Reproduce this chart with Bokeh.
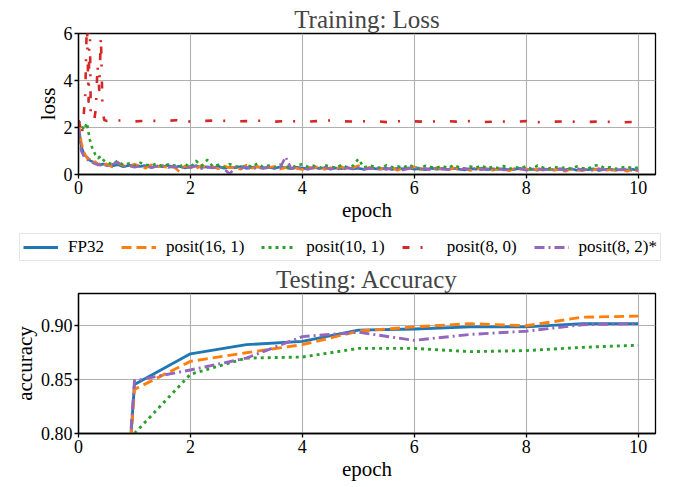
import numpy as np
from bokeh.plotting import figure
from bokeh.models import Range1d, FixedTicker, Legend, LegendItem, NumeralTickFormatter
from bokeh.layouts import column
from bokeh.embed import file_html
from bokeh.resources import INLINE

# ---------------- data ----------------
SERIES = ["FP32", "posit(16, 1)", "posit(10, 1)", "posit(8, 0)", "posit(8, 2)*"]

TRAIN_EPOCH = [0, 0.05, 0.1, 0.15, 0.2, 0.25, 0.3, 0.35, 0.4, 0.45] + [round(0.5 + 0.1 * i, 1) for i in range(96)]

LOSS_FP32 = [2.10, 1.20, 0.85, 0.75, 0.60, 0.55, 0.50, 0.45, 0.42, 0.45,
             0.40, 0.36, 0.42, 0.33, 0.38, 0.41, 0.34, 0.37, 0.30, 0.36,
             0.33, 0.38, 0.31, 0.35, 0.28, 0.34, 0.37, 0.30, 0.33, 0.29,
             0.35, 0.27, 0.32, 0.29, 0.34, 0.26, 0.31, 0.33, 0.28, 0.30,
             0.27, 0.32, 0.29, 0.25, 0.31, 0.28, 0.24, 0.30, 0.26, 0.29,
             0.23, 0.28, 0.25, 0.30, 0.24, 0.27, 0.22, 0.29, 0.25, 0.23,
             0.27, 0.21, 0.26, 0.24, 0.28, 0.22, 0.25, 0.20, 0.27, 0.23,
             0.25, 0.21, 0.26, 0.23, 0.19, 0.25, 0.22, 0.27, 0.20, 0.24,
             0.21, 0.25, 0.19, 0.23, 0.26, 0.20, 0.22, 0.18, 0.24, 0.21,
             0.19, 0.23, 0.20, 0.25, 0.18, 0.22, 0.20, 0.24, 0.17, 0.21,
             0.23, 0.18, 0.21, 0.19, 0.22, 0.17]
LOSS_P16_1 = [2.20, 1.35, 0.95, 0.70, 0.65, 0.48, 0.55, 0.40, 0.50, 0.38,
              0.45, 0.32, 0.50, 0.38, 0.29, 0.44, 0.35, 0.27, 0.41, 0.33,
              0.38, 0.26, 0.34, 0.12, 0.36, 0.30, 0.25, 0.39, 0.28, 0.33,
              0.24, 0.36, 0.29, 0.31, 0.22, 0.40, 0.27, 0.33, 0.25, 0.30,
              0.34, 0.23, 0.29, 0.36, 0.26, 0.21, 0.32, 0.27, 0.35, 0.22,
              0.29, 0.24, 0.33, 0.20, 0.27, 0.38, 0.23, 0.30, 0.19, 0.26,
              0.22, 0.31, 0.18, 0.27, 0.24, 0.33, 0.20, 0.26, 0.17, 0.29,
              0.23, 0.19, 0.28, 0.21, 0.26, 0.17, 0.25, 0.22, 0.30, 0.18,
              0.24, 0.20, 0.16, 0.27, 0.21, 0.25, 0.15, 0.23, 0.19, 0.26,
              0.18, 0.22, 0.14, 0.24, 0.20, 0.16, 0.23, 0.19, 0.25, 0.15,
              0.21, 0.17, 0.23, 0.14, 0.20, 0.16]
LOSS_P10_1 = [2.30, 2.10, 1.90, 2.20, 1.50, 1.10, 0.85, 0.70, 0.78, 0.60,
              0.52, 0.44, 0.58, 0.40, 0.47, 0.36, 0.50, 0.42, 0.38, 0.46,
              0.35, 0.43, 0.39, 0.33, 0.45, 0.30, 0.58, 0.37, 0.62, 0.34,
              0.41, 0.30, 0.44, 0.36, 0.28, 0.40, 0.33, 0.47, 0.31, 0.38,
              0.29, 0.42, 0.35, 0.27, 0.39, 0.44, 0.32, 0.37, 0.26, 0.40,
              0.34, 0.28, 0.41, 0.31, 0.36, 0.66, 0.29, 0.38, 0.33, 0.27,
              0.39, 0.31, 0.35, 0.28, 0.42, 0.30, 0.26, 0.37, 0.32, 0.29,
              0.36, 0.27, 0.40, 0.31, 0.25, 0.34, 0.29, 0.38, 0.26, 0.33,
              0.28, 0.36, 0.24, 0.31, 0.27, 0.35, 0.23, 0.38, 0.29, 0.25,
              0.33, 0.26, 0.30, 0.23, 0.34, 0.28, 0.24, 0.37, 0.40, 0.27,
              0.31, 0.24, 0.29, 0.34, 0.25, 0.30]
LOSS_P8_2 = [2.00, 1.00, 0.75, 0.65, 0.55, 0.50, 0.45, 0.42, 0.40, 0.38,
             0.37, 0.43, 0.52, 0.34, 0.39, 0.31, 0.36, 0.40, 0.29, 0.35,
             0.38, 0.30, 0.34, 0.27, 0.33, 0.29, 0.36, 0.25, 0.31, 0.28,
             0.33, 0.24, 0.02, 0.30, 0.27, 0.32, 0.23, 0.29, 0.26, 0.31,
             0.25, 0.28, 0.75, 0.24, 0.30, 0.27, 0.22, 0.29, 0.25, 0.31,
             0.23, 0.27, 0.20, 0.28, 0.24, 0.30, 0.21, 0.26, 0.23, 0.28,
             0.22, 0.27, 0.24, 0.19, 0.26, 0.33, 0.22, 0.25, 0.20, 0.27,
             0.24, 0.21, 0.28, 0.19, 0.25, 0.22, 0.27, 0.20, 0.24, 0.21,
             0.26, 0.19, 0.23, 0.20, 0.25, 0.18, 0.22, 0.27, 0.19, 0.23,
             0.20, 0.24, 0.18, 0.22, 0.26, 0.19, 0.21, 0.17, 0.23, 0.20,
             0.18, 0.22, 0.19, 0.24, 0.17, 0.21]

RED_EPOCH = [0, 0.03, 0.06, 0.09, 0.12, 0.15, 0.18, 0.2, 0.22, 0.25, 0.28, 0.31,
             0.34, 0.37, 0.4, 0.43, 0.46] + [0.5 + 0.25 * i for i in range(39)]
LOSS_P8_0 = [2.30, 2.05, 1.70, 2.45, 3.35, 6.60, 3.10, 7.00, 2.40, 2.26, 2.30, 2.80,
             4.60, 3.60, 5.90, 2.70, 2.32,
             2.28, 2.30, 2.26, 2.29, 2.27, 2.31, 2.25, 2.28, 2.30, 2.26,
             2.27, 2.29, 2.25, 2.28, 2.24, 2.27, 2.30, 2.26, 2.25, 2.28,
             2.23, 2.27, 2.26, 2.24, 2.28, 2.25, 2.27, 2.23, 2.26, 2.24,
             2.27, 2.22, 2.25, 2.26, 2.23, 2.25, 2.24, 2.22, 2.25]

TEST_EPOCH = [0, 1, 2, 3, 4, 5, 6, 7, 8, 9, 10]
ACC_FP32 = [0.10, 0.8455, 0.874, 0.8825, 0.8855, 0.896, 0.897, 0.899, 0.899, 0.902, 0.902]
ACC_P16_1 = [0.10, 0.841, 0.867, 0.875, 0.8825, 0.895, 0.899, 0.902, 0.900, 0.908, 0.909]
ACC_P10_1 = [0.10, 0.800, 0.855, 0.870, 0.871, 0.879, 0.879, 0.876, 0.877, 0.880, 0.882]
ACC_P8_0 = [0.10, 0.10, 0.10, 0.10, 0.10, 0.10, 0.10, 0.10, 0.10, 0.10, 0.10]
ACC_P8_2 = [0.10, 0.849, 0.859, 0.870, 0.890, 0.894, 0.8865, 0.892, 0.895, 0.901, 0.902]

X_TICKS = [0, 2, 4, 6, 8, 10]
LOSS_TICKS = [0, 2, 4, 6]
ACC_TICKS = [0.80, 0.85, 0.90]

assert len(TRAIN_EPOCH) == len(LOSS_FP32) == len(LOSS_P16_1) == len(LOSS_P10_1) == len(LOSS_P8_2)
assert len(RED_EPOCH) == len(LOSS_P8_0)

# ---------------- style ----------------
COLORS = ["#1f77b4", "#ff7f0e", "#2ca02c", "#d62728", "#9467bd"]
DASHES = ["solid", "10 5", "3 4", "7 11 2 15", "10 4 2 4"]
FONT = "Liberation Serif"
LW = 2.6
W = 680


def style(p, yticks):
    p.title.text_font = FONT
    p.title.text_font_size = "25px"
    p.title.text_font_style = "normal"
    p.title.align = "center"
    p.title.standoff = 1
    p.outline_line_color = "black"
    p.outline_line_width = 1.3
    p.outline_line_alpha = 1.0
    for ax in (p.xaxis[0], p.yaxis[0]):
        ax.axis_line_width = 1.3
        ax.axis_line_color = "black"
        ax.major_tick_line_width = 1.3
        ax.major_tick_in = 0
        ax.major_tick_out = 4
        ax.minor_tick_line_color = None
        ax.major_label_text_font = FONT
        ax.major_label_text_font_size = "18px"
        ax.major_label_text_color = "black"
        ax.major_label_standoff = 2
        ax.axis_label_text_font = FONT
        ax.axis_label_text_font_size = "21px"
        ax.axis_label_text_font_style = "normal"
        ax.axis_label_text_color = "black"
        ax.axis_label_standoff = 1
    p.xaxis.ticker = FixedTicker(ticks=X_TICKS)
    p.yaxis.ticker = FixedTicker(ticks=yticks)
    for g in (p.xgrid[0], p.ygrid[0]):
        g.grid_line_color = "#b0b0b0"
        g.grid_line_width = 1.1
    p.background_fill_color = "white"
    p.border_fill_color = "white"


# ---------------- top: training loss ----------------
p1 = figure(width=W, height=230, output_backend="svg", toolbar_location=None,
            title="Training: Loss", x_range=Range1d(0, 10.31), y_range=Range1d(0, 6),
            min_border_left=78, min_border_right=25, min_border_top=33, min_border_bottom=56)
style(p1, LOSS_TICKS)
p1.xaxis.axis_label = "epoch"
p1.yaxis.axis_label = "loss"

loss_x = [TRAIN_EPOCH, TRAIN_EPOCH, TRAIN_EPOCH, RED_EPOCH, TRAIN_EPOCH]
loss_y = [LOSS_FP32, LOSS_P16_1, LOSS_P10_1, LOSS_P8_0, LOSS_P8_2]
for xs, ys, c, d in zip(loss_x, loss_y, COLORS, DASHES):
    p1.line(xs, ys, line_color=c, line_width=LW, line_dash=d, line_join="round")

# ---------------- legend strip (keys drawn from the same series, ranges hide the lines) ----------------
p3 = figure(frame_width=W, frame_height=33, output_backend="svg", toolbar_location=None,
            x_range=Range1d(100, 101), y_range=Range1d(100, 101),
            x_axis_location=None, y_axis_location=None,
            min_border=0, min_border_left=0, min_border_right=0,
            min_border_top=0, min_border_bottom=0)
p3.grid.visible = False
p3.outline_line_color = None
key_renderers = []
for xs, ys, c, d in zip(loss_x, loss_y, COLORS, DASHES):
    key_renderers.append(p3.line(xs, ys, line_color=c, line_width=LW + 0.3, line_dash=d))
legend = Legend(items=[LegendItem(label=s, renderers=[r]) for s, r in zip(SERIES, key_renderers)],
                orientation="horizontal", location="center")
legend.label_text_font = FONT
legend.label_text_font_size = "17px"
legend.label_text_color = "black"
legend.glyph_width = 35
legend.glyph_height = 16
legend.label_standoff = 10
legend.spacing = 17
legend.padding = 3
legend.margin = 0
legend.border_line_color = "#cccccc"
legend.border_line_width = 1.2
legend.background_fill_color = "white"
legend.background_fill_alpha = 1.0
p3.add_layout(legend, "center")

# ---------------- bottom: testing accuracy ----------------
p2 = figure(width=W, height=224, output_backend="svg", toolbar_location=None,
            title="Testing: Accuracy", x_range=Range1d(0, 10.31), y_range=Range1d(0.80, 0.93),
            min_border_left=78, min_border_right=25, min_border_top=30, min_border_bottom=54)
style(p2, ACC_TICKS)
p2.yaxis.formatter = NumeralTickFormatter(format="0.00")
p2.xaxis.axis_label = "epoch"
p2.yaxis.axis_label = "accuracy"

acc_y = [ACC_FP32, ACC_P16_1, ACC_P10_1, ACC_P8_0, ACC_P8_2]
for ys, c, d in zip(acc_y, COLORS, DASHES):
    p2.line(TEST_EPOCH, ys, line_color=c, line_width=LW + 0.3, line_dash=d, line_join="round")

layout = column(p1, p3, p2, spacing=0)
open("out.html", "w").write(file_html(layout, INLINE))
